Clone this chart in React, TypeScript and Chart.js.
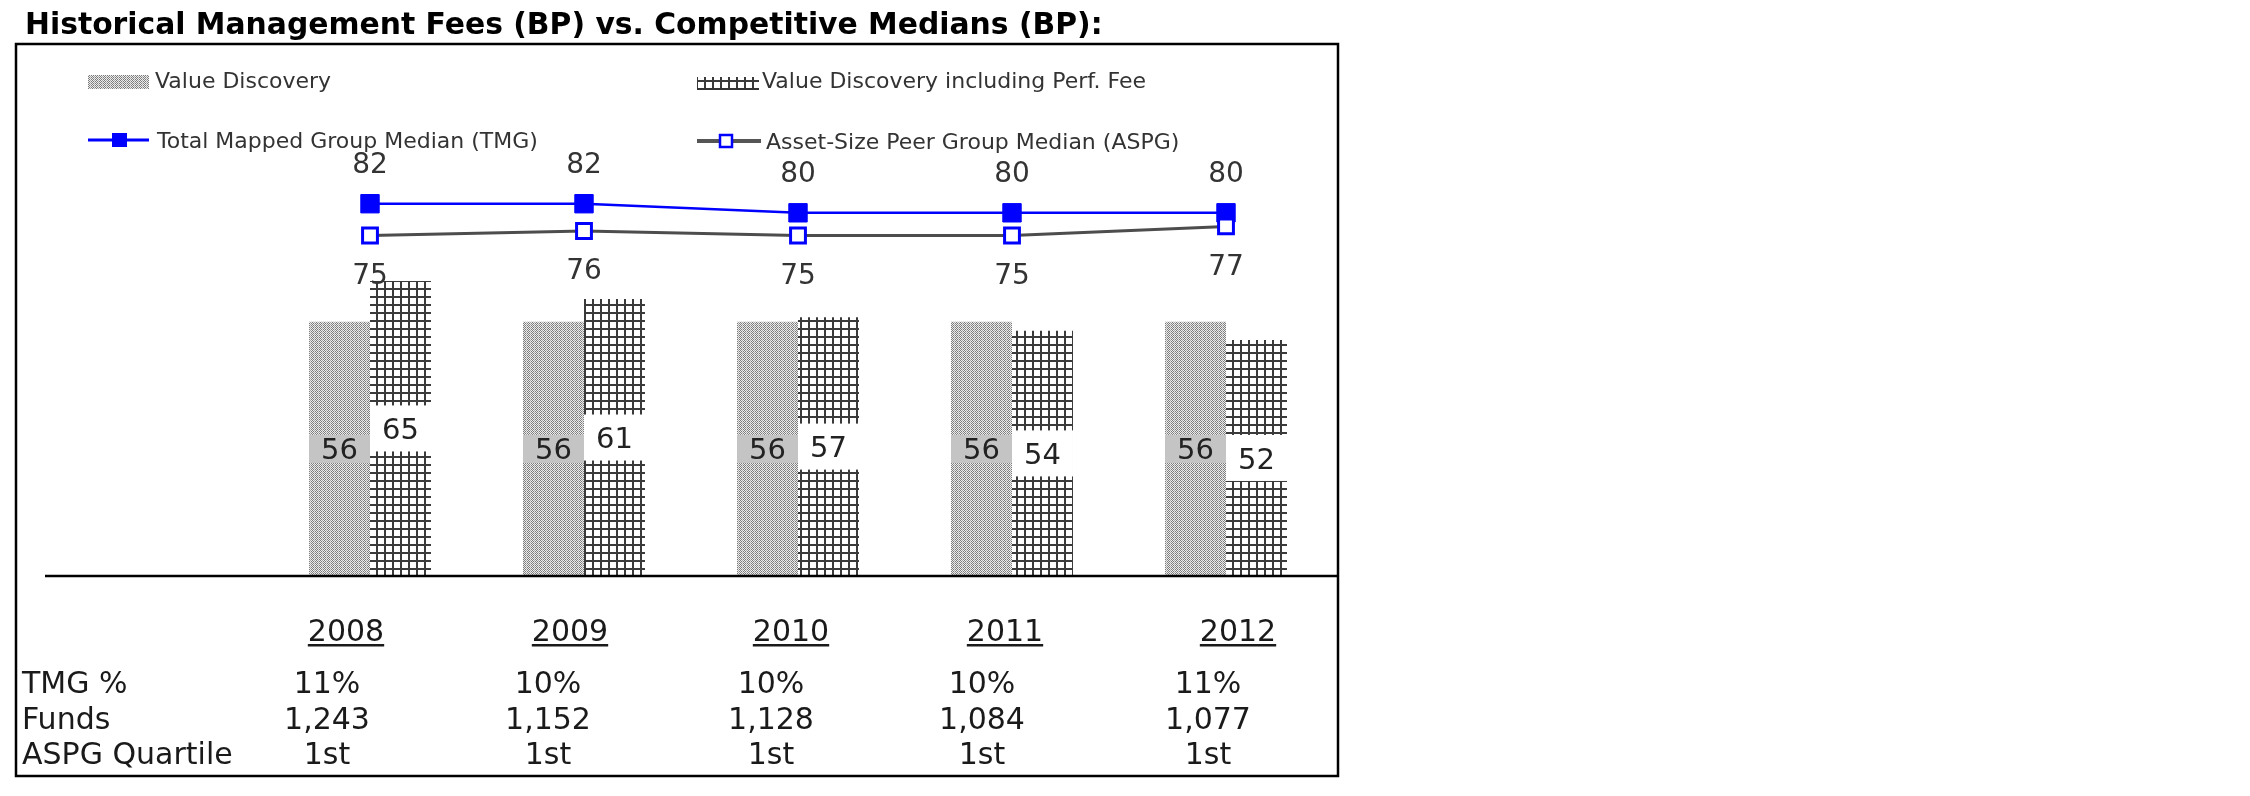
import React, { useEffect, useRef } from 'react';
import { Chart, registerables } from 'chart.js';

Chart.register(...registerables);

// ---------- data ----------
const categories = ['2008', '2009', '2010', '2011', '2012'];
const valueDiscovery = [56, 56, 56, 56, 56];
const valueDiscoveryPerf = [65, 61, 57, 54, 52];
const tmgMedian = [82, 82, 80, 80, 80];
const aspgMedian = [75, 76, 75, 75, 77];
const tmgPct = ['11%', '10%', '10%', '10%', '11%'];
const funds = ['1,243', '1,152', '1,128', '1,084', '1,077'];
const aspgQuartile = ['1st', '1st', '1st', '1st', '1st'];
const rowLabels = ['TMG %', 'Funds', 'ASPG Quartile'];
const seriesNames = [
  'Value Discovery',
  'Value Discovery including Perf. Fee',
  'Total Mapped Group Median (TMG)',
  'Asset-Size Peer Group Median (ASPG)',
];
const chartTitle = 'Historical Management Fees (BP) vs. Competitive Medians (BP):';

// ---------- layout / style (not data) ----------
const FONT = '"DejaVu Sans", Verdana, sans-serif';
const yearCols = [346, 570, 791, 1005, 1238];
const valueCols = [327, 548, 771, 982, 1208];

function makeDotPattern(ctx: CanvasRenderingContext2D): CanvasPattern {
  const c = document.createElement('canvas');
  c.width = 4;
  c.height = 4;
  const g = c.getContext('2d')!;
  g.fillStyle = '#ececec';
  g.fillRect(0, 0, 4, 4);
  for (let y = 0; y < 4; y++) {
    for (let x = 0; x < 4; x++) {
      if ((x + y) % 2 === 0) {
        g.fillStyle = x === 2 ? '#a8a8a8' : '#7c7c7c';
        g.fillRect(x, y, 1, 1);
      }
    }
  }
  return ctx.createPattern(c, 'repeat')!;
}

function makeGridPattern(ctx: CanvasRenderingContext2D): CanvasPattern {
  const c = document.createElement('canvas');
  c.width = 8;
  c.height = 8;
  const g = c.getContext('2d')!;
  g.fillStyle = '#ffffff';
  g.fillRect(0, 0, 8, 8);
  g.fillStyle = '#3a3a3a';
  g.fillRect(0, 0, 2, 8);
  g.fillRect(0, 0, 8, 2);
  return ctx.createPattern(c, 'repeat')!;
}

const valueLabelsPlugin = {
  id: 'valueLabels',
  afterDatasetsDraw(chart: any) {
    const ctx: CanvasRenderingContext2D = chart.ctx;
    ctx.save();
    chart.data.datasets.forEach((ds: any, i: number) => {
      const meta = chart.getDatasetMeta(i);
      meta.data.forEach((el: any, j: number) => {
        const v = ds.data[j];
        const text = String(v);
        if (ds.type === 'bar') {
          const p = el.getProps(['x', 'y', 'base', 'width'], true);
          const cy = (p.y + p.base) / 2;
          const fs = 29;
          if (ds.labelStyle === 'gray') {
            ctx.fillStyle = '#c4c4c4';
            ctx.fillRect(p.x - p.width / 2, cy - 14, p.width, 28);
          } else {
            ctx.fillStyle = '#ffffff';
            ctx.fillRect(p.x - p.width / 2, cy - 23, p.width, 46);
          }
          ctx.fillStyle = '#222222';
          ctx.font = `${fs}px ${FONT}`;
          ctx.textAlign = 'center';
          ctx.textBaseline = 'alphabetic';
          ctx.fillText(text, p.x, cy + fs * 0.365);
        } else {
          const p = el.getProps(['x', 'y'], true);
          const fs = 28;
          const cy = ds.labelStyle === 'above' ? p.y - 41 : p.y + 38;
          ctx.fillStyle = '#333333';
          ctx.font = `${fs}px ${FONT}`;
          ctx.textAlign = 'center';
          ctx.textBaseline = 'alphabetic';
          ctx.fillText(text, p.x, cy + fs * 0.365);
        }
      });
    });
    ctx.restore();
  },
};

function makeDecorPlugin(dot: CanvasPattern, grid: CanvasPattern) {
  return {
    id: 'decor',
    afterDraw(chart: any) {
      const ctx: CanvasRenderingContext2D = chart.ctx;
      ctx.save();
      // Title
      ctx.fillStyle = '#000000';
      ctx.font = `bold 29.8px ${FONT}`;
      ctx.textAlign = 'left';
      ctx.textBaseline = 'alphabetic';
      ctx.fillText(chartTitle, 25, 34);

      // Frame
      ctx.strokeStyle = '#000000';
      ctx.lineWidth = 2.5;
      ctx.strokeRect(16, 44, 1322, 732);

      // Axis baseline
      const yScale = chart.scales.y;
      const baseY = yScale.getPixelForValue(0);
      ctx.lineWidth = 2.5;
      ctx.beginPath();
      ctx.moveTo(45, baseY);
      ctx.lineTo(1338, baseY);
      ctx.stroke();

      // Legend
      ctx.font = `22px ${FONT}`;
      // VD
      ctx.fillStyle = dot;
      ctx.fillRect(88, 75, 61, 14);
      ctx.fillStyle = '#333333';
      ctx.fillText(seriesNames[0], 155, 88);
      // VD perf
      ctx.fillStyle = grid;
      ctx.fillRect(697, 77, 62, 11);
      ctx.fillStyle = '#333333';
      ctx.fillRect(697, 88, 62, 2);
      ctx.fillText(seriesNames[1], 762, 88);
      // TMG
      ctx.strokeStyle = '#0000ff';
      ctx.lineWidth = 3;
      ctx.beginPath();
      ctx.moveTo(88, 140);
      ctx.lineTo(149, 140);
      ctx.stroke();
      ctx.fillStyle = '#0000ff';
      ctx.fillRect(119 - 7, 140 - 7, 15, 14);
      ctx.fillStyle = '#333333';
      ctx.fillText(seriesNames[2], 157, 148);
      // ASPG
      ctx.strokeStyle = '#555555';
      ctx.lineWidth = 4;
      ctx.beginPath();
      ctx.moveTo(697, 141);
      ctx.lineTo(761, 141);
      ctx.stroke();
      ctx.fillStyle = '#ffffff';
      ctx.fillRect(726 - 6, 141 - 6, 12, 12);
      ctx.strokeStyle = '#0000ff';
      ctx.lineWidth = 2.5;
      ctx.strokeRect(726 - 6, 141 - 6, 12, 12);
      ctx.fillStyle = '#333333';
      ctx.fillText(seriesNames[3], 766, 149);

      // Table
      ctx.font = `30px ${FONT}`;
      ctx.fillStyle = '#1a1a1a';
      ctx.textAlign = 'center';
      categories.forEach((yr, i) => {
        const x = yearCols[i];
        ctx.fillText(yr, x, 641);
        const w = ctx.measureText(yr).width;
        ctx.fillRect(x - w / 2, 644, w, 2.5);
      });
      const rows = [tmgPct, funds, aspgQuartile];
      const baselines = [693, 729, 764];
      rows.forEach((row, r) => {
        ctx.textAlign = 'left';
        ctx.fillText(rowLabels[r], 22, baselines[r]);
        ctx.textAlign = 'center';
        row.forEach((val, i) => ctx.fillText(val, valueCols[i], baselines[r]));
      });
      ctx.restore();
    },
  };
}

export default function App() {
  const ref = useRef<HTMLCanvasElement | null>(null);

  useEffect(() => {
    const canvas = ref.current;
    if (!canvas) return;
    const ctx = canvas.getContext('2d')!;
    const dot = makeDotPattern(ctx);
    const grid = makeGridPattern(ctx);

    const chart = new Chart(canvas, {
      type: 'bar',
      data: {
        labels: categories,
        datasets: [
          {
            type: 'line',
            label: seriesNames[3],
            data: aspgMedian,
            order: 0,
            borderColor: '#4d4d4d',
            borderWidth: 3,
            pointStyle: 'rect',
            pointRadius: 10.5,
            pointBackgroundColor: '#ffffff',
            pointBorderColor: '#0000ff',
            pointBorderWidth: 3,
            tension: 0,
            labelStyle: 'below',
          } as any,
          {
            type: 'line',
            label: seriesNames[2],
            data: tmgMedian,
            order: 1,
            borderColor: '#0000ff',
            borderWidth: 2.5,
            pointStyle: 'rect',
            pointRadius: 13,
            pointBackgroundColor: '#0000ff',
            pointBorderColor: '#0000ff',
            pointBorderWidth: 1,
            tension: 0,
            labelStyle: 'above',
          } as any,
          {
            type: 'bar',
            label: seriesNames[0],
            data: valueDiscovery,
            order: 2,
            backgroundColor: dot,
            borderWidth: 0,
            barPercentage: 1,
            categoryPercentage: 0.57,
            labelStyle: 'gray',
          } as any,
          {
            type: 'bar',
            label: seriesNames[1],
            data: valueDiscoveryPerf,
            order: 2,
            backgroundColor: grid,
            borderWidth: 0,
            barPercentage: 1,
            categoryPercentage: 0.57,
            labelStyle: 'white',
          } as any,
        ],
      },
      options: {
        responsive: false,
        animation: false,
        devicePixelRatio: 1,
        layout: { padding: { left: 263, right: 917, top: 122, bottom: 220 } },
        scales: {
          x: { display: false, offset: true, grid: { display: false } },
          y: { display: false, min: 0, max: 100 },
        },
        plugins: {
          legend: { display: false },
          title: { display: false },
          tooltip: { enabled: false },
        },
      },
      plugins: [valueLabelsPlugin, makeDecorPlugin(dot, grid)],
    } as any);

    return () => chart.destroy();
  }, []);

  return (
    <div style={{ position: 'absolute', left: 0, top: 0, width: 2250, height: 796, background: '#ffffff' }}>
      <canvas ref={ref} width={2250} height={796} style={{ display: 'block' }} />
    </div>
  );
}
